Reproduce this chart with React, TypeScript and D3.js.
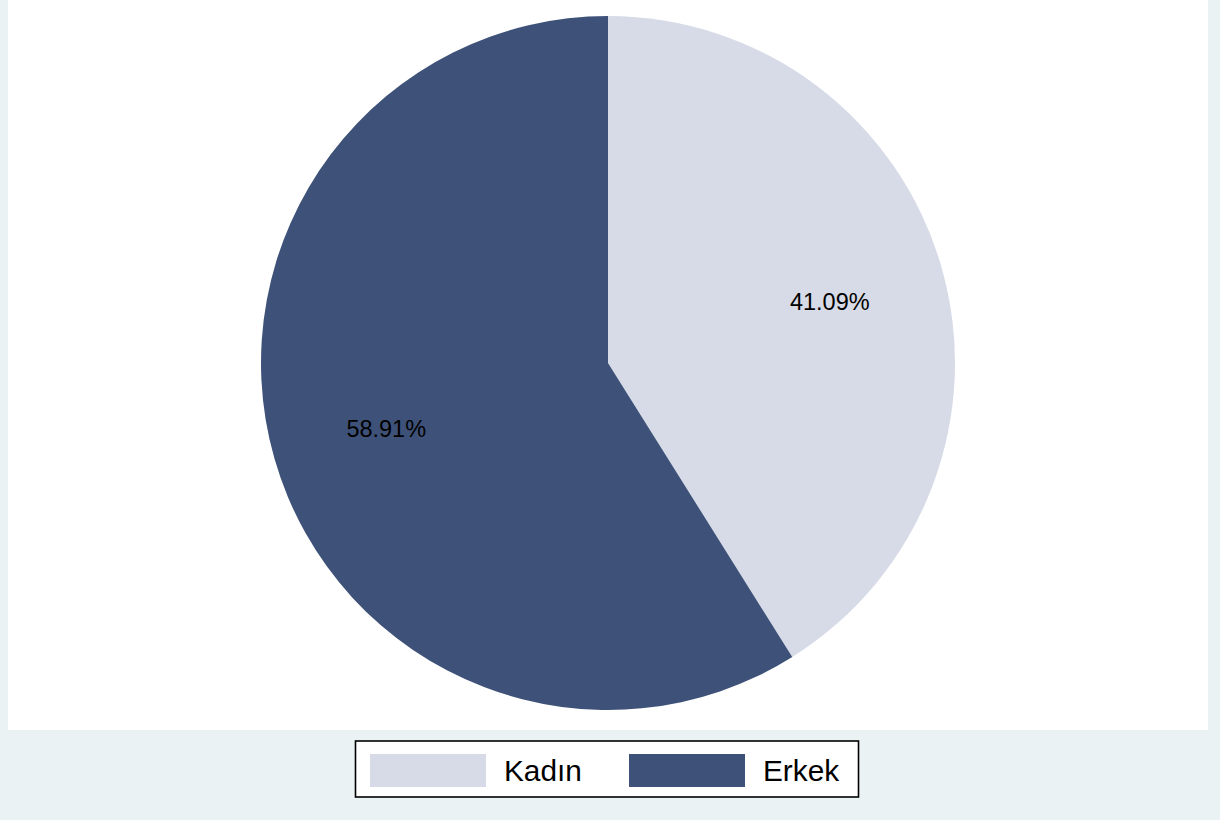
import React from "react";
import * as d3 from "d3";

const categories = ["Kadın", "Erkek"];
const shares = [41.09, 58.91];
const labels = ["41.09%", "58.91%"];
const colors = ["#D7DBE7", "#3E5279"];

export default function App() {
  const W = 1220, H = 820;
  const cx = 608, cy = 363, R = 347;
  const pie = d3.pie<number>().sort(null).value((d) => d);
  const arcs = pie(shares);
  const arc = d3.arc<d3.PieArcDatum<number>>().innerRadius(0).outerRadius(R);
  const labelArc = d3.arc<d3.PieArcDatum<number>>().innerRadius(R * 0.665).outerRadius(R * 0.665);

  const legendX = 355.5, legendY = 741, legendW = 503, legendH = 56;
  const legendItems = [
    { sx: 370, tx: 504 },
    { sx: 629, tx: 763 },
  ];

  return (
    <svg width={W} height={H} style={{ position: "absolute", left: 0, top: 0 }} fontFamily="Liberation Sans, Arial, sans-serif">
      <rect x={0} y={0} width={W} height={H} fill="#EAF2F3" />
      <rect x={8} y={0} width={1200} height={730} fill="#FFFFFF" />
      <g transform={`translate(${cx},${cy})`}>
        {arcs.map((a, i) => (
          <path key={i} d={arc(a) || ""} fill={colors[i]} />
        ))}
        {arcs.map((a, i) => {
          const [x, y] = labelArc.centroid(a);
          return (
            <text key={"l" + i} x={x} y={y + 2} textAnchor="middle" dy="0.36em" fontSize={23.5} fill="#000">
              {labels[i]}
            </text>
          );
        })}
      </g>
      <rect x={legendX} y={legendY} width={legendW} height={legendH} fill="#FFFFFF" stroke="#000" strokeWidth={1.6} />
      {categories.map((c, i) => (
        <g key={c}>
          <rect x={legendItems[i].sx} y={754} width={116} height={33} fill={colors[i]} />
          <text x={legendItems[i].tx} y={781} fontSize={29.8} fill="#000">{c}</text>
        </g>
      ))}
    </svg>
  );
}
